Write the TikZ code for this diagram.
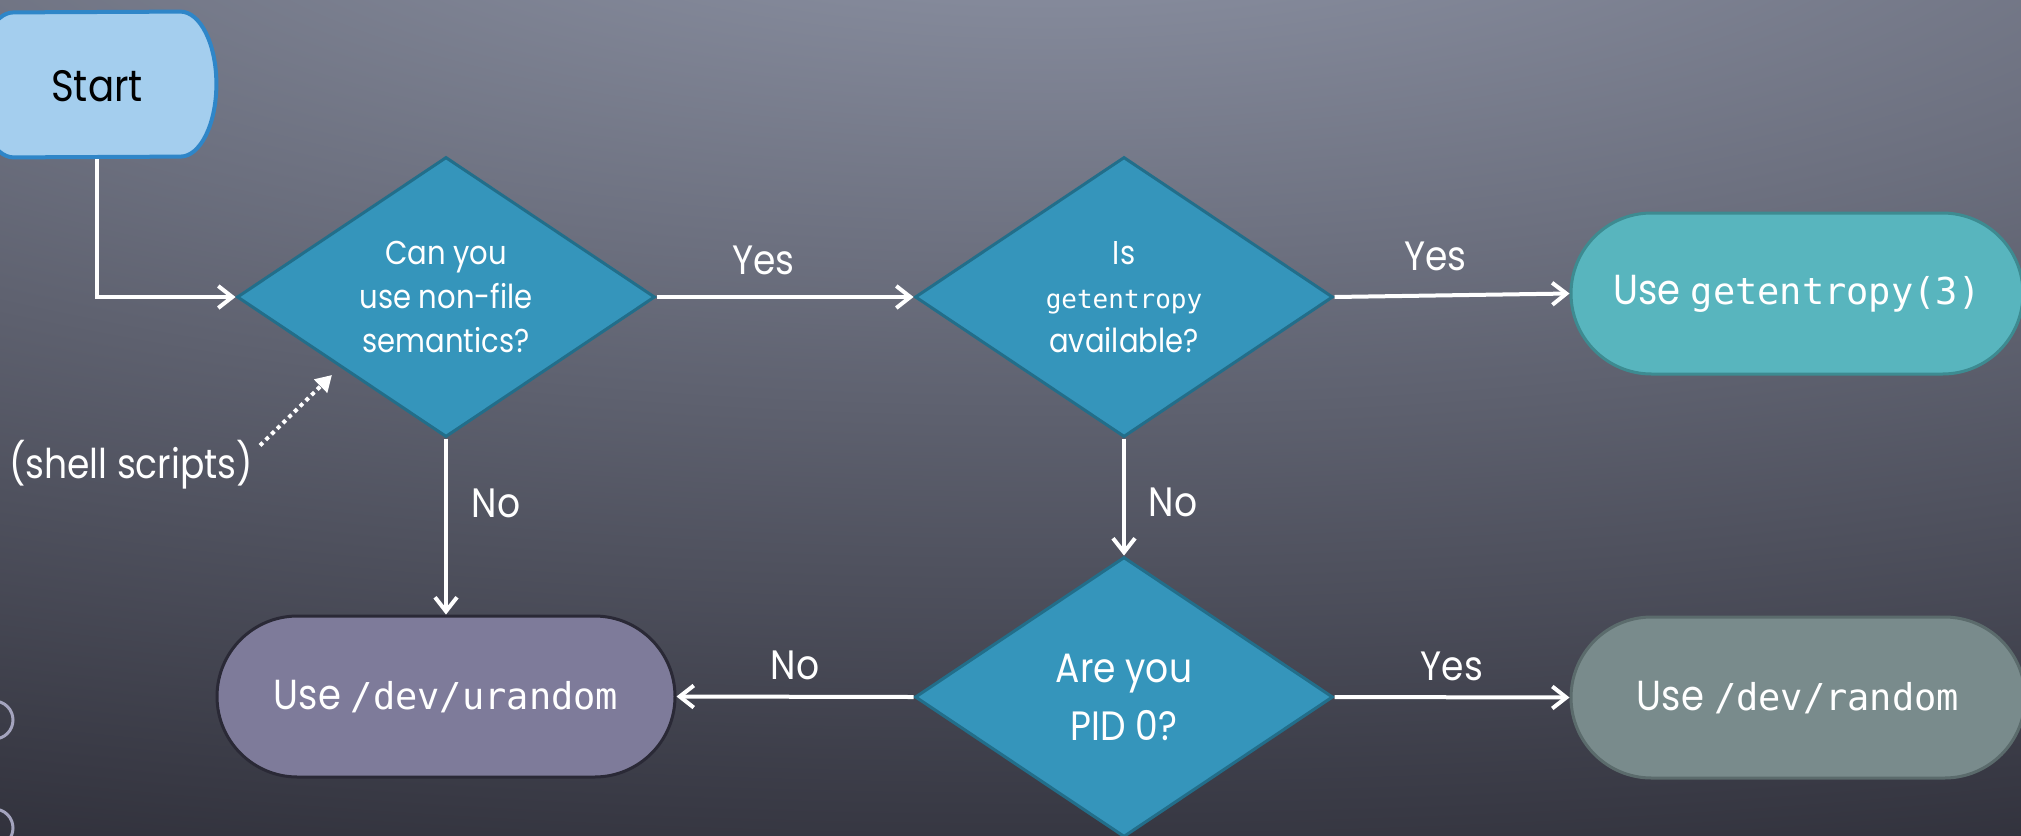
\documentclass[tikz,border=0pt]{standalone}
\usepackage{fontspec}
\setmainfont{Poppins}[FakeStretch=0.88]
\setmonofont{DejaVu Sans Mono}
\usetikzlibrary{shapes.geometric,shapes.misc,arrows.meta}
\pgfdeclarelayer{backdrop}
\pgfdeclarelayer{shapebg}
\pgfsetlayers{backdrop,shapebg,main}
\definecolor{bgin}{HTML}{9298AA}
\definecolor{bgout}{HTML}{2A2A34}
\definecolor{startfill}{HTML}{A4CEEE}
\definecolor{startdraw}{HTML}{2F86C8}
\definecolor{decfill}{HTML}{3595BB}
\definecolor{decdraw}{HTML}{226E8A}
\definecolor{gefill}{HTML}{58B5BE}
\definecolor{gedraw}{HTML}{3D8B91}
\definecolor{urfill}{HTML}{7E7B9A}
\definecolor{urdraw}{HTML}{2A2936}
\definecolor{rdfill}{HTML}{798B8C}
\definecolor{rddraw}{HTML}{5B6B6C}
\definecolor{decocirc}{HTML}{A4A4BE}
\begin{document}
\begin{tikzpicture}[x=0.5pt,y=-0.5pt,
  arr/.style={draw=white, line width=2pt, -{Straight Barb[length=7pt,width=11pt]}},
  dotarr/.style={draw=white, line width=2pt, dash pattern=on 2pt off 2pt, -{Stealth[length=8pt,width=9pt,inset=0pt]}},
  dec/.style={shape=diamond, fill=decfill, draw=decdraw, line width=1.5pt, aspect=1.49,
    minimum width=209pt, minimum height=140pt, inner sep=0pt, text=white, align=center,
    font=\fontsize{16.5}{22}\selectfont},
  term/.style={shape=rounded rectangle, line width=1.5pt, minimum height=80.5pt, inner sep=0pt,
    text=white, font=\fontsize{21}{25}\selectfont},
  startnode/.style={shape=rectangle, draw=none, minimum width=119pt, minimum height=72.5pt,
    inner sep=0pt, text=black, font=\fontsize{22}{26}\selectfont},
  startshape/.style={fill=startfill, draw=startdraw, line width=2pt},
  lab/.style={text=white, font=\fontsize{20.5}{24}\selectfont},
  deco/.style={draw=decocirc, line width=1.5pt}
]
\useasboundingbox (0,0) rectangle (2021,835);
\begin{pgfonlayer}{backdrop}
  \begin{scope}
    \clip (0,0) rectangle (2021,835);
    \fill[bgout] (0,0) rectangle (2021,835);
    \shade[inner color=bgin, outer color=bgout] (1050,-150) ellipse [x radius=3600, y radius=1120];
    \draw[deco] (-6,720) circle [radius=19];
    \draw[deco] (-6,828) circle [radius=19];
  \end{scope}
\end{pgfonlayer}

% nodes
\node[startnode] (start) at (97,86) {Start};
\begin{pgfonlayer}{shapebg}
  \path[startshape] ([xshift=-18pt,yshift=0.75pt]start.north east)
    arc [start angle=90, end angle=-90, x radius=18pt, y radius=36.25pt]
    -- ([xshift=18pt,yshift=0.75pt]start.south west)
    arc [start angle=270, end angle=90, x radius=18pt, y radius=36.25pt]
    -- cycle;
\end{pgfonlayer}

\node[dec] (d1) at (446,297) {Can you\\use non-file\\semantics?};
\node[dec] (d2) at (1124,297) {Is\\{\ttfamily\fontsize{13}{22}\selectfont getentropy}\\available?};
\node[dec, font=\fontsize{20.5}{29}\selectfont] (d3) at (1124,697) {Are you\\PID 0?};

\node[term, fill=gefill, draw=gedraw, minimum width=226pt] (getent) at (1797,293.5)
  {Use {\ttfamily\fontsize{18.5}{22}\selectfont getentropy(3)}};
\node[term, fill=urfill, draw=urdraw, minimum width=229pt] (urandom) at (446,696.5)
  {Use {\ttfamily\fontsize{18.5}{22}\selectfont /dev/urandom}};
\node[term, fill=rdfill, draw=rddraw, minimum width=227pt] (random) at (1798,697.5)
  {Use {\ttfamily\fontsize{18.5}{22}\selectfont /dev/random}};

\node[lab] (shell) at (131,465) {(shell scripts)};
\coordinate (shelltip) at (332,375);

% connectors
\draw[arr] (start.south) |- (d1.west);
\draw[arr] (d1.east) -- node[lab, pos=0.415, yshift=18.5pt] {Yes} (d2.west);
\draw[arr] (d2.east) -- node[lab, pos=0.43, yshift=19.5pt] {Yes} (getent.west);
\draw[arr] (d1.south) -- node[lab, pos=0.37, xshift=25pt] {No} (urandom.north);
\draw[arr] (d2.south) -- node[lab, pos=0.55, xshift=24.5pt] {No} (d3.north);
\draw[arr] (d3.west) -- node[lab, pos=0.5, yshift=15.5pt] {No} (urandom.east);
\draw[arr] (d3.east) -- node[lab, pos=0.5, yshift=15.5pt] {Yes} (random.west);
\draw[dotarr] ([yshift=-6pt]shell.north east) -- (shelltip);
\end{tikzpicture}
\end{document}
